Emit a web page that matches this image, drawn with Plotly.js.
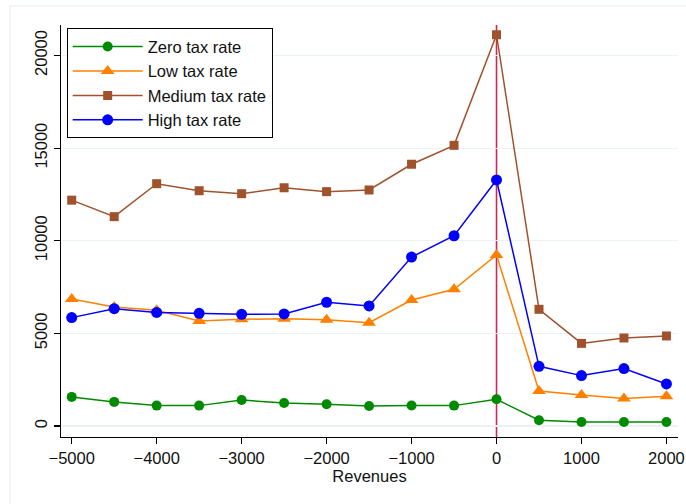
<!DOCTYPE html>
<html>
<head>
<meta charset="utf-8">
<script src="https://cdn.plot.ly/plotly-3.0.1.min.js"></script>
<style>html,body{margin:0;padding:0;background:#fff;}#chart{width:686px;height:504px;}</style>
</head>
<body>
<div id="chart"></div>
<script>
const revenues = [-5000,-4500,-4000,-3500,-3000,-2500,-2000,-1500,-1000,-500,0,500,1000,1500,2000];
const zeroRate   = [1570,1300,1100,1100,1400,1240,1170,1080,1110,1100,1440,310,220,220,220];
const lowRate    = [6850,6420,6250,5670,5760,5790,5740,5580,6800,7380,9230,1890,1670,1490,1600];
const mediumRate = [12190,11300,13080,12700,12540,12860,12650,12740,14130,15150,21120,6300,4460,4750,4860];
const highRate   = [5850,6330,6130,6080,6030,6050,6680,6480,9120,10270,13280,3220,2720,3100,2270];
const seriesNames = ["Zero tax rate","Low tax rate","Medium tax rate","High tax rate"];
const xTicks = [-5000,-4000,-3000,-2000,-1000,0,1000,2000];
const yTicks = [0,5000,10000,15000,20000];
const xLine = 0;

const font = "Liberation Sans, Arial, Helvetica, sans-serif";
const traces = [
  {x: revenues, y: zeroRate, name: seriesNames[0], mode: "lines+markers",
   line: {color: "#008a00", width: 1.5}, marker: {symbol: "circle", size: 10, color: "#008a00"}},
  {x: revenues, y: lowRate, name: seriesNames[1], mode: "lines+markers",
   line: {color: "#ff8000", width: 1.5}, marker: {symbol: "triangle-up", size: 12, color: "#ff8000"}},
  {x: revenues, y: mediumRate, name: seriesNames[2], mode: "lines+markers",
   line: {color: "#a0522d", width: 1.5}, marker: {symbol: "square", size: 9, color: "#a0522d"}},
  {x: revenues, y: highRate, name: seriesNames[3], mode: "lines+markers",
   line: {color: "#0000ff", width: 1.5}, marker: {symbol: "circle", size: 11, color: "#0000ff"}}
];

const layout = {
  width: 686, height: 504,
  margin: {l: 61, r: 8, t: 25, b: 67},
  paper_bgcolor: "#ffffff", plot_bgcolor: "#ffffff",
  font: {family: font, size: 16, color: "#000"},
  showlegend: true,
  legend: {x: 0.0092, y: 0.992, xanchor: "left", yanchor: "top",
    bgcolor: "#ffffff", bordercolor: "#000", borderwidth: 1, itemwidth: 70,
    font: {family: font, size: 16.5, color: "#111"}, tracegroupgap: 0},
  xaxis: {range: [-5126, 2136], tickvals: xTicks, ticktext: xTicks.map(v => v < 0 ? "\u2212" + Math.abs(v) : String(v)),
    showgrid: false, zeroline: false, showline: true, linecolor: "#000", linewidth: 1.3,
    ticks: "outside", ticklen: 6, tickcolor: "#000", tickwidth: 1.2,
    tickfont: {family: font, size: 16.5, color: "#111"},
    title: {text: "Revenues", font: {family: font, size: 16.5, color: "#111"}, standoff: 1}},
  yaxis: {range: [-594, 21646], tickvals: yTicks, ticktext: yTicks.map(String), tickangle: -90,
    showgrid: true, gridcolor: "#eaf2f3", gridwidth: 1.2, zeroline: false,
    showline: true, linecolor: "#000", linewidth: 1.3,
    ticks: "outside", ticklen: 6, tickcolor: "#000", tickwidth: 1.2,
    tickfont: {family: font, size: 16.5, color: "#111"}},
  shapes: [
    {type: "line", xref: "x", yref: "paper", x0: xLine, x1: xLine, y0: 0, y1: 1,
     line: {color: "#c8285a", width: 1.6}, layer: "below"},
    {type: "rect", xref: "paper", yref: "paper", x0: -0.0827, x1: 1.03, y0: -0.2, y1: 1.0461,
     line: {color: "#e8eff1", width: 1.2}, fillcolor: "rgba(0,0,0,0)", layer: "below"}
  ]
};
Plotly.newPlot("chart", traces, layout, {displayModeBar: false, staticPlot: true});
</script>
</body>
</html>
